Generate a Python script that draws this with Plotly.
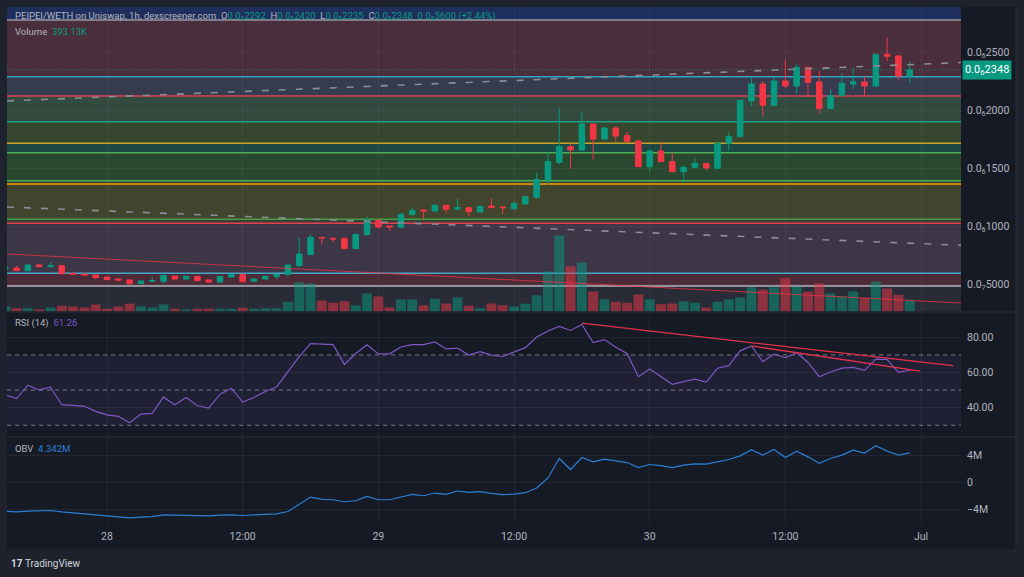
import plotly.graph_objects as go
import pandas as pd

# ---------------- data (price in units of 1e-7 WETH) ----------------
start_time = "2024-06-27 15:00"

opens = [0.627, 0.638, 0.615, 0.664, 0.649, 0.658, 0.592, 0.586, 0.578,
         0.560, 0.543, 0.535, 0.503, 0.523, 0.523, 0.569, 0.543, 0.566, 0.535,
         0.517, 0.560, 0.583, 0.523, 0.543, 0.563, 0.583, 0.658, 0.753, 0.902,
         0.894, 0.894, 0.805, 0.925, 1.049, 1.000, 0.989, 1.098, 1.138, 1.129,
         1.178, 1.147, 1.158, 1.121, 1.172, 1.163, 1.149, 1.190, 1.247, 1.397,
         1.549, 1.684, 1.655, 1.879, 1.750, 1.845, 1.779, 1.733, 1.511, 1.646,
         1.555, 1.468, 1.506, 1.540, 1.497, 1.713, 1.770, 2.078, 2.224, 2.040,
         2.250, 2.207, 2.368, 2.241, 2.012, 2.124, 2.224, 2.241, 2.207, 2.480,
         2.466, 2.292]
highs = [0.646, 0.655, 0.667, 0.672, 0.690, 0.660, 0.595, 0.589, 0.580,
         0.562, 0.545, 0.537, 0.528, 0.560, 0.578, 0.572, 0.569, 0.568, 0.537,
         0.568, 0.586, 0.585, 0.546, 0.569, 0.583, 0.666, 0.902, 0.928, 0.904,
         0.896, 0.897, 0.931, 1.081, 1.063, 1.003, 1.115, 1.161, 1.140, 1.190,
         1.180, 1.239, 1.160, 1.173, 1.239, 1.165, 1.210, 1.256, 1.457, 1.641,
         2.014, 1.713, 1.980, 1.882, 1.856, 1.862, 1.810, 1.747, 1.661, 1.727,
         1.632, 1.523, 1.589, 1.543, 1.716, 1.807, 2.086, 2.287, 2.250, 2.284,
         2.431, 2.402, 2.370, 2.336, 2.178, 2.316, 2.359, 2.296, 2.483, 2.626,
         2.468, 2.420]
lows = [0.625, 0.613, 0.612, 0.647, 0.647, 0.578, 0.580, 0.575, 0.540,
        0.535, 0.520, 0.491, 0.500, 0.520, 0.503, 0.540, 0.540, 0.527, 0.514,
        0.515, 0.558, 0.518, 0.521, 0.541, 0.543, 0.563, 0.644, 0.750, 0.839,
        0.862, 0.800, 0.802, 0.920, 0.977, 0.960, 0.977, 1.095, 1.060, 1.127,
        1.109, 1.132, 1.081, 1.118, 1.155, 1.104, 1.146, 1.187, 1.236, 1.353,
        1.534, 1.491, 1.652, 1.572, 1.736, 1.727, 1.718, 1.508, 1.474, 1.552,
        1.465, 1.374, 1.503, 1.477, 1.494, 1.649, 1.767, 2.035, 1.943, 2.037,
        2.187, 2.144, 2.109, 1.971, 2.006, 2.121, 2.178, 2.121, 2.195, 2.425,
        2.253, 2.235]
closes = [0.644, 0.615, 0.664, 0.649, 0.658, 0.589, 0.583, 0.578, 0.555,
          0.537, 0.535, 0.503, 0.526, 0.529, 0.575, 0.543, 0.566, 0.529, 0.517,
          0.566, 0.583, 0.520, 0.543, 0.566, 0.581, 0.664, 0.759, 0.902, 0.897,
          0.888, 0.805, 0.928, 1.052, 0.991, 0.991, 1.101, 1.135, 1.129, 1.178,
          1.144, 1.158, 1.124, 1.170, 1.158, 1.158, 1.193, 1.253, 1.402, 1.555,
          1.684, 1.655, 1.879, 1.750, 1.845, 1.776, 1.730, 1.511, 1.646, 1.555,
          1.468, 1.506, 1.540, 1.500, 1.713, 1.773, 2.083, 2.224, 2.040, 2.250,
          2.207, 2.368, 2.239, 2.012, 2.124, 2.230, 2.244, 2.207, 2.480, 2.463,
          2.292, 2.348]
volumes_k = [179, 118, 118, 71, 143, 204, 179, 143, 250,
             96, 179, 275, 179, 143, 250, 96, 71, 96, 96,
             96, 96, 132, 96, 118, 118, 346, 1046, 1000, 393,
             311, 368, 225, 643, 536, 143, 429, 429, 225, 453,
             286, 500, 204, 118, 286, 225, 179, 280, 582, 1429,
             2714, 1618, 1750, 714, 439, 346, 311, 607, 439, 261,
             286, 368, 311, 143, 346, 439, 500, 868, 786, 868,
             1189, 893, 714, 1000, 643, 546, 714, 475, 1071, 821,
             596, 393.13]
rsi = [47.3, 45.2, 52.8, 50.1, 51.6, 41.7, 41.3, 40.8, 37.9,
       35.9, 35.1, 31.4, 36.4, 36.8, 46.0, 41.7, 45.8, 41.1, 39.8,
       47.7, 51.1, 43.2, 45.8, 49.2, 51.8, 60.5, 69.0, 76.4, 76.0,
       75.8, 64.6, 70.8, 75.8, 70.6, 70.6, 74.5, 75.8, 75.8, 77.4,
       73.4, 73.9, 69.9, 71.9, 69.9, 69.1, 71.7, 74.1, 80.2, 83.6,
       86.2, 83.9, 87.3, 77.0, 78.7, 74.3, 70.8, 57.6, 62.0, 57.6,
       53.3, 54.8, 56.2, 54.5, 62.4, 63.9, 72.3, 75.1, 66.1, 70.4,
       68.4, 71.2, 65.7, 57.6, 60.3, 62.5, 62.9, 61.2, 67.6, 67.4,
       60.1, 61.26]
obv_m = [-4.25, -4.35, -4.25, -4.25, -4.15, -4.35, -4.49, -4.59, -4.79,
         -4.89, -5.04, -5.23, -5.14, -5.04, -4.79, -4.84, -4.84, -4.89, -4.94,
         -4.84, -4.79, -4.89, -4.84, -4.74, -4.64, -4.30, -3.26, -2.17, -2.52,
         -2.57, -2.86, -2.72, -2.07, -2.57, -2.57, -2.17, -1.78, -1.98, -1.58,
         -1.78, -1.28, -1.48, -1.38, -1.63, -1.80, -1.73, -1.53, -0.84, 0.64,
         3.51, 1.88, 3.65, 3.01, 3.41, 3.16, 2.91, 2.17, 2.62, 2.47,
         2.17, 2.52, 2.72, 2.67, 3.01, 3.36, 3.90, 4.79, 4.00, 4.84,
         3.65, 4.59, 3.75, 2.81, 3.51, 4.00, 4.74, 4.30, 5.38, 4.59,
         4.00, 4.342]

# drawing tools (time, value)
view_t = ["2024-06-27 15:09:18", "2024-07-01 03:32:06"]
upper_dash_p = [2.078, 2.409]
lower_dash_p = [1.164, 0.834]
red_trend_p = [0.759, 0.336]
rsi_trend1_t = ["2024-06-29 18:00", "2024-07-01 02:50"]
rsi_trend1_v = [88.0, 63.9]
rsi_trend2_t = ["2024-06-30 09:00", "2024-06-30 23:54"]
rsi_trend2_v = [75.1, 60.8]

fib_levels = [2.776, 2.287, 2.121, 1.899, 1.713, 1.632, 1.391, 1.362, 1.058, 1.023, 0.592, 0.483]
rsi_levels = [70, 50, 30]
last_price = 2.348

price_ticks = [0.5, 1.0, 1.5, 2.0, 2.5]
price_tick_labels = ["0.0<sub>7</sub>5000", "0.0<sub>6</sub>1000", "0.0<sub>6</sub>1500",
                     "0.0<sub>6</sub>2000", "0.0<sub>6</sub>2500"]
rsi_ticks = [40, 60, 80]
rsi_tick_labels = ["40.00", "60.00", "80.00"]
obv_ticks = [-4, 0, 4]
obv_tick_labels = ["−4M", "0", "4M"]
time_ticks = ["2024-06-28 00:00", "2024-06-28 12:00", "2024-06-29 00:00", "2024-06-29 12:00",
              "2024-06-30 00:00", "2024-06-30 12:00", "2024-07-01 00:00"]
time_tick_labels = ["28", "12:00", "29", "12:00", "30", "12:00", "Jul"]

# ---------------- styles ----------------
UP = "#089981"
DOWN = "#f23645"
GRID = "rgba(120,123,134,0.13)"
TXT = "#b2b5be"
FONT = "Roboto"
zone_colors = ["#1f2f5d", "#4a2e3b", "#363c4e", "#334a3f", "#37472f", "#1c4a43",
               "#29482f", "#2e4632", "#41452d", "#3a3f36", "#3c3646", "#4b2b37", "#292c37"]
level_colors = ["#9598a1", "#2fa4c4", "#e04250", "#1fa08b", "#c9a227", "#4caf50",
                "#4caf50", "#ff9800", "#43a047", "#e04250", "#45a6c6", "#b2b5be"]

PRICE_RANGE = [0.2629, 2.8879]
VOL_RANGE = [0, 10874]
RSI_RANGE = [23.64, 94.09]
OBV_RANGE = [-6.14, 6.60]

times = pd.date_range(start_time, periods=len(closes), freq="h")
is_up = [c >= o for o, c in zip(opens, closes)]
vol_colors = ["rgba(8,153,129,0.5)" if u else "rgba(242,54,69,0.5)" for u in is_up]

fig = go.Figure()
fig.add_trace(go.Bar(x=times, y=volumes_k, marker_color=vol_colors, marker_line_width=0,
                     xaxis="x", yaxis="y", hoverinfo="skip"))
fig.add_trace(go.Candlestick(x=times, open=opens, high=highs, low=lows, close=closes,
                             xaxis="x", yaxis="y2", whiskerwidth=0,
                             increasing=dict(line=dict(color=UP, width=1), fillcolor=UP),
                             decreasing=dict(line=dict(color=DOWN, width=1), fillcolor=DOWN)))
fig.add_trace(go.Scatter(x=view_t, y=upper_dash_p, mode="lines", xaxis="x", yaxis="y2",
                         line=dict(color="#8a8d96", width=1.6, dash="7px,10px"), hoverinfo="skip"))
fig.add_trace(go.Scatter(x=view_t, y=lower_dash_p, mode="lines", xaxis="x", yaxis="y2",
                         line=dict(color="#8a8d96", width=1.6, dash="7px,10px"), hoverinfo="skip"))
fig.add_trace(go.Scatter(x=view_t, y=red_trend_p, mode="lines", xaxis="x", yaxis="y2",
                         line=dict(color="rgba(242,54,69,0.75)", width=1), hoverinfo="skip"))
fig.add_trace(go.Scatter(x=view_t, y=[last_price, last_price], mode="lines", xaxis="x", yaxis="y2",
                         line=dict(color="rgba(8,153,129,0.8)", width=1, dash="1px,2px"), hoverinfo="skip"))
fig.add_trace(go.Scatter(x=times, y=rsi, mode="lines", xaxis="x", yaxis="y3",
                         line=dict(color="#7e57c2", width=1.2), hoverinfo="skip"))
fig.add_trace(go.Scatter(x=rsi_trend1_t, y=rsi_trend1_v, mode="lines", xaxis="x", yaxis="y3",
                         line=dict(color="#e5304a", width=1.3), hoverinfo="skip"))
fig.add_trace(go.Scatter(x=rsi_trend2_t, y=rsi_trend2_v, mode="lines", xaxis="x", yaxis="y3",
                         line=dict(color="#e5304a", width=1.3), hoverinfo="skip"))
fig.add_trace(go.Scatter(x=times, y=obv_m, mode="lines", xaxis="x", yaxis="y4",
                         line=dict(color="#2a7fd4", width=1.2), hoverinfo="skip"))

# ---------------- shapes ----------------
L, R, T, B = 7, 63, 7, 53
W, H = 1024 - L - R, 577 - T - B
def px(x):
    return (x - L) / W
def py(y):
    return (577 - B - y) / H

shapes = [dict(type="rect", xref="paper", yref="paper", x0=px(7), x1=px(1016), y0=py(549), y1=py(7),
               fillcolor="#161a25", line_width=0, layer="below")]
bounds = [PRICE_RANGE[1]] + fib_levels + [PRICE_RANGE[0]]
for i, col in enumerate(zone_colors):
    shapes.append(dict(type="rect", xref="paper", yref="y2", x0=0, x1=1, y0=bounds[i + 1], y1=bounds[i],
                       fillcolor=col, line_width=0, layer="below"))
for lv, col in zip(fib_levels, level_colors):
    shapes.append(dict(type="line", xref="paper", yref="y2", x0=0, x1=1, y0=lv, y1=lv,
                       line=dict(color=col, width=1.5), layer="below"))
shapes.append(dict(type="rect", xref="paper", yref="y3", x0=0, x1=1, y0=rsi_levels[2], y1=rsi_levels[0],
                   fillcolor="rgba(126,87,194,0.1)", line_width=0, layer="below"))
for lv in rsi_levels:
    shapes.append(dict(type="line", xref="paper", yref="y3", x0=0, x1=1, y0=lv, y1=lv,
                       line=dict(color="#787b86", width=1, dash="4px,4px"), layer="below"))
for yy in (312, 437):
    shapes.append(dict(type="line", xref="paper", yref="paper", x0=px(7), x1=px(1016), y0=py(yy), y1=py(yy),
                       line=dict(color="#2a2e39", width=1)))
shapes.append(dict(type="line", xref="paper", yref="paper", x0=px(1016), x1=px(1016), y0=py(549), y1=py(7),
                   line=dict(color="#2a2e39", width=1)))

g = lambda s: f"<span style='color:{UP}'>{s}</span>"
header = ("PEIPEI/WETH on Uniswap, 1h, dexscreener.com&nbsp;&nbsp;O" + g("0.0<sub>6</sub>2292") +
          "&nbsp;&nbsp;H" + g("0.0<sub>6</sub>2420") + "&nbsp;&nbsp;L" + g("0.0<sub>6</sub>2235") +
          "&nbsp;&nbsp;C" + g("0.0<sub>6</sub>2348") + "&nbsp;&nbsp;" + g("0.0<sub>8</sub>5600 (+2.44%)"))
annotations = [
    dict(text=header, xref="paper", yref="paper", x=px(13), y=py(16), xanchor="left", yanchor="middle",
         showarrow=False, font=dict(family=FONT, size=9.5, color=TXT)),
    dict(text="Volume&nbsp;&nbsp;" + g("393.13K"), xref="paper", yref="paper", x=px(13), y=py(31),
         xanchor="left", yanchor="middle", showarrow=False, font=dict(family=FONT, size=9.5, color=TXT)),
    dict(text="RSI (14)&nbsp;&nbsp;<span style='color:#7e57c2'>61.26</span>", xref="paper", yref="paper",
         x=px(13), y=py(322.5), xanchor="left", yanchor="middle", showarrow=False,
         font=dict(family=FONT, size=9.5, color=TXT)),
    dict(text="OBV&nbsp;&nbsp;<span style='color:#2a7fd4'>4.342M</span>", xref="paper", yref="paper",
         x=px(13), y=py(448), xanchor="left", yanchor="middle", showarrow=False,
         font=dict(family=FONT, size=9.5, color=TXT)),
    dict(text="0.0<sub>6</sub>2348", xref="paper", yref="y2", x=px(962), y=last_price, xanchor="left",
         yanchor="middle", showarrow=False, bgcolor=UP, borderpad=2,
         font=dict(family=FONT, size=11, color="#ffffff")),
    dict(text="<b>17</b>&nbsp;TradingView", xref="paper", yref="paper", x=px(9), y=py(563),
         xanchor="left", yanchor="middle", showarrow=False, font=dict(family=FONT, size=10, color="#d1d4dc")),
]

axis_font = dict(family=FONT, size=10.5, color=TXT)
fig.update_layout(
    width=1024, height=577,
    margin=dict(l=L, r=R, t=T, b=B),
    paper_bgcolor="#1e222d", plot_bgcolor="#161a25",
    showlegend=False, bargap=0.12, boxgap=0.3,
    shapes=shapes, annotations=annotations,
    xaxis=dict(type="date", range=view_t, anchor="y4", rangeslider=dict(visible=False),
               tickvals=time_ticks, ticktext=time_tick_labels, showgrid=True, gridcolor=GRID,
               zeroline=False, showline=False, ticks="", tickfont=axis_font, ticklabelstandoff=4),
    yaxis=dict(domain=[py(311.5), 1.0], range=VOL_RANGE, visible=False, showgrid=False),
    yaxis2=dict(overlaying="y", side="right", range=PRICE_RANGE, tickvals=price_ticks,
                ticktext=price_tick_labels, showgrid=True, gridcolor=GRID, zeroline=False,
                showline=False, ticks="", tickfont=axis_font, ticklabelstandoff=5),
    yaxis3=dict(domain=[py(436.5), py(312.5)], range=RSI_RANGE, side="right", anchor="x",
                tickvals=rsi_ticks, ticktext=rsi_tick_labels, showgrid=True, gridcolor=GRID,
                zeroline=False, showline=False, ticks="", tickfont=axis_font, ticklabelstandoff=5),
    yaxis4=dict(domain=[0.0, py(437.5)], range=OBV_RANGE, side="right", anchor="x",
                tickvals=obv_ticks, ticktext=obv_tick_labels, showgrid=True, gridcolor=GRID,
                zeroline=False, showline=False, ticks="", tickfont=axis_font, ticklabelstandoff=5),
)

fig.write_html("out.html", config={"displayModeBar": False})
